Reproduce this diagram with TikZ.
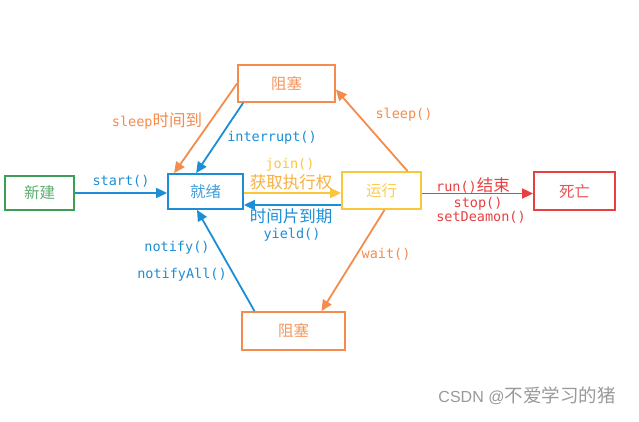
\documentclass[tikz,border=0pt]{standalone}
\usepackage{fontspec}
\setmainfont{DejaVu Sans Mono}
\newfontfamily\cjk{Noto Sans CJK SC}
\newfontfamily\wmfont{Liberation Sans}
\usetikzlibrary{arrows.meta}
\definecolor{stblue}{RGB}{28,142,214}
\definecolor{storange}{RGB}{243,140,76}
\definecolor{styellow}{RGB}{250,198,60}
\definecolor{stred}{RGB}{232,64,64}
\definecolor{stgreen}{RGB}{62,158,86}
\def\zh#1{{\cjk\fontsize{16.5}{18}\selectfont #1}}

\begin{document}
\begin{tikzpicture}[x=1pt,y=-1pt,
	state/.style={draw,line width=1.8pt,inner sep=0pt,font=\cjk\fontsize{15.5}{17}\selectfont},
	move/.style={line width=1.8pt,-{Triangle[length=11pt,width=10pt]}},
	lbl/.style={inner sep=0pt,font=\fontsize{13.5}{15}\selectfont}]
		%%%%% START %%%%%
		\useasboundingbox (0,0) rectangle (639,421);
		
		\node[state,stgreen,text=stgreen!85,minimum width=69pt,minimum height=34pt] (new) at (39.5,193) {新建};
		\node[state,stblue,text=stblue!85,minimum width=75pt,minimum height=35pt] (ready) at (205.5,191.5) {就绪};
		\node[state,styellow,text=styellow!90,minimum width=79pt,minimum height=37pt] (run) at (381.5,190.5) {运行};
		\node[state,stred,text=stred!90,minimum width=81pt,minimum height=38pt] (dead) at (574.5,191) {死亡};
		\node[state,storange,text=storange!90,minimum width=97pt,minimum height=37pt] (blockT) at (286.5,83.5) {阻塞};
		\node[state,storange,text=storange!90,minimum width=103pt,minimum height=38pt] (blockB) at (293.5,331) {阻塞};
		
		\draw[move,stblue] (new.east) -- (new.east -| ready.west);
		\node[lbl,stblue] (lstart) at (121,181) {start()};
		
		\draw[move,storange] (blockT.west) -- ([xshift=7pt]ready.north west);
		\node[lbl,storange] (lsleepend) at (157,121) {sleep\zh{时间到}};
		\draw[move,stblue] ([xshift=6pt]blockT.south west) -- ([xshift=29pt]ready.north west);
		\node[lbl,stblue] (linterrupt) at (272,138) {interrupt()};
		
		\draw[move,styellow] ([yshift=-1.5pt]ready.east) -- ([yshift=-1.5pt]ready.east -| run.west);
		\node[lbl,styellow] (ljoin) at (290,165) {join()};
		\node[lbl,styellow!60!storange] (lgain) at (291,182) {\zh{获取执行权}};
		\draw[move,stblue] ([yshift=-13.5pt]ready.east -| run.west) -- ([yshift=-13.5pt]ready.east);
		\node[lbl,stblue] (lslice) at (291,216) {\zh{时间片到期}};
		\node[lbl,stblue] (lyield) at (292,235) {yield()};
		
		\draw[move,storange] ([xshift=26pt]run.north) -- ([yshift=-6pt]blockT.east);
		\node[lbl,storange] (lsleep) at (404,115) {sleep()};
		
		\draw[move,stred] ([yshift=-3pt]run.east) -- ([yshift=-3pt]run.east -| dead.west);
		\node[lbl,stred] (lrunend) at (473,185) {run()\zh{结束}};
		\node[lbl,stred] (lstop) at (478,204) {stop()};
		\node[lbl,stred] (ldaemon) at (481,217) {setDeamon()};
		
		\draw[move,storange] ([xshift=3pt]run.south) -- ([xshift=28pt]blockB.north);
		\node[lbl,storange] (lwait) at (386,254) {wait()};
		
		\draw[move,stblue] ([xshift=-39pt]blockB.north) -- ([xshift=-8.5pt]ready.south);
		\node[lbl,stblue] (lnotify) at (177,248) {notify()};
		\node[lbl,stblue] (lnotifyall) at (182,275) {notifyAll()};
		
		\node[inner sep=0pt,text=black!40,font=\wmfont\fontsize{16}{18}\selectfont] (mark) at (527,396) {CSDN @{\cjk\fontsize{18.5}{20}\selectfont 不爱学习的猪}};
		%%%%% END %%%%%
\end{tikzpicture}
\end{document}
